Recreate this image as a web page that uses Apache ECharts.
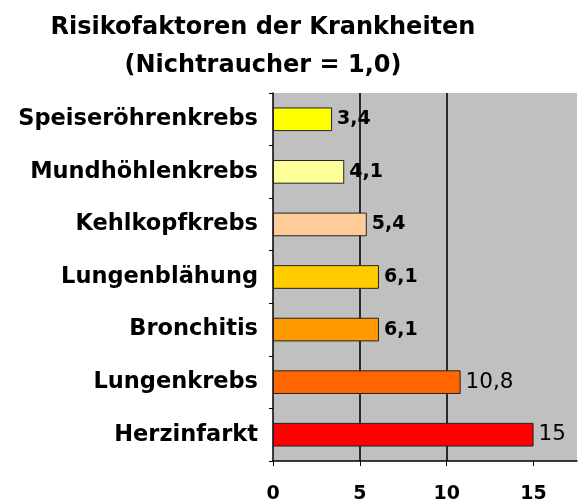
<!DOCTYPE html>
<html>
<head>
<meta charset="utf-8">
<script src="https://cdn.jsdelivr.net/npm/echarts@6/dist/echarts.min.js"></script>
<style>
  html, body { margin: 0; padding: 0; background: #fff; }
  #chart { width: 584px; height: 504px; }
</style>
</head>
<body>
<div id="chart"></div>
<script>
    // Krankheiten von oben nach unten
    const diseases = ['Speiseröhrenkrebs', 'Mundhöhlenkrebs', 'Kehlkopfkrebs', 'Lungenblähung', 'Bronchitis', 'Lungenkrebs', 'Herzinfarkt'];
    const riskValues = [3.4, 4.1, 5.4, 6.1, 6.1, 10.8, 15];
    const barColors = ['#ffff00', '#ffff99', '#ffcc99', '#ffcc00', '#ff9900', '#ff6600', '#ff0000'];
    const xTicks = [0, 5, 10, 15];

    const font = 'DejaVu Sans, Verdana, sans-serif';
    const chart = echarts.init(document.getElementById('chart'));

    // die beiden großen Werte sind im Original nicht fett
    const barData = riskValues.map((v, i) => ({
        value: v,
        itemStyle: { color: barColors[i] },
        label: v > 10 ? { fontWeight: 'normal', fontSize: 21.5 } : { fontWeight: 'bold', fontSize: 19 }
    }));

    const option = {
        animation: false,
        title: {
            text: 'Risikofaktoren der Krankheiten\n(Nichtraucher = 1,0)',
            left: 258,
            textAlign: 'center',
            top: 4,
            textStyle: {
                fontFamily: font,
                fontSize: 24,
                fontWeight: 'bold',
                color: '#000',
                lineHeight: 38
            }
        },
        grid: {
            left: 273,
            top: 93,
            right: 7,
            bottom: 42,
            show: true,
            backgroundColor: '#c0c0c0',
            borderWidth: 0
        },
        xAxis: {
            type: 'value',
            min: 0,
            max: 17.5,
            interval: 5,
            axisLine: { show: true, lineStyle: { color: '#000', width: 1.5 } },
            axisTick: { show: true, length: 5, customValues: xTicks, lineStyle: { color: '#000' } },
            axisLabel: {
                customValues: xTicks,
                margin: 24,
                fontFamily: font,
                fontSize: 19,
                fontWeight: 'bold',
                color: '#000'
            },
            splitLine: {
                show: true,
                showMinLine: false,
                showMaxLine: false,
                lineStyle: { color: '#2a2a2a', width: 2 }
            }
        },
        yAxis: {
            type: 'category',
            data: diseases,
            inverse: true,
            axisLine: { show: true, lineStyle: { color: '#000', width: 1.5 } },
            axisTick: { show: true, length: 4, lineStyle: { color: '#000' } },
            axisLabel: {
                margin: 15,
                fontFamily: font,
                fontSize: 22.5,
                fontWeight: 'bold',
                color: '#000'
            }
        },
        series: [{
            type: 'bar',
            data: barData,
            barWidth: '45%',
            itemStyle: { borderColor: '#222', borderWidth: 1 },
            label: {
                show: true,
                position: 'right',
                distance: 5,
                fontFamily: font,
                color: '#000',
                formatter: p => String(p.value).replace('.', ',')
            }
        }]
    };

    chart.setOption(option);
</script>
</body>
</html>
